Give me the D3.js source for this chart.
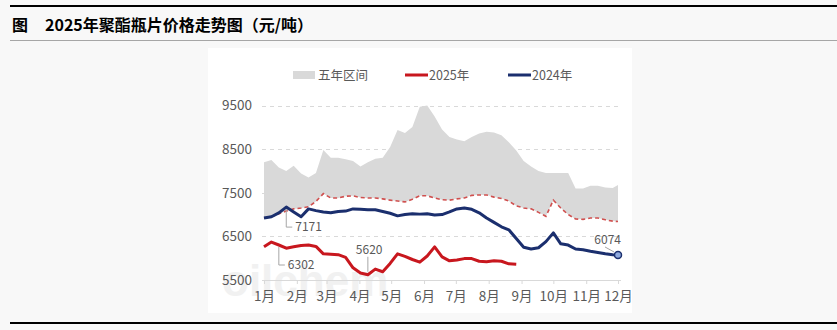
<!DOCTYPE html>
<html>
<head>
<meta charset="utf-8">
<script src="https://cdn.jsdelivr.net/npm/d3@7"></script>
<style>
  body { margin: 0; background: #f8f8f8; }
  svg { display: block; font-family: "Noto Sans CJK SC", "Noto Sans", sans-serif; }
</style>
</head>
<body>
<div id="graphicContainer"></div>
<script>
// weekly dates (month-day)
var dates = ["1-1","1-8","1-15","1-22","1-29","2-5","2-12","2-19","2-26","3-5","3-12","3-19","3-26",
  "4-2","4-9","4-16","4-23","4-30","5-7","5-14","5-21","5-28","6-4","6-11","6-18","6-25",
  "7-2","7-9","7-16","7-23","7-30","8-6","8-13","8-20","8-27","9-3","9-10","9-17","9-24",
  "10-1","10-8","10-15","10-22","10-29","11-5","11-12","11-19","11-26","12-1"];

// five-year range (max / min)
var rangeMax = [8200,8250,8080,8000,8120,7940,7850,7950,8480,8300,8300,8270,8230,8100,8200,8280,8300,8550,
  8940,8870,9010,9470,9500,9250,8950,8780,8720,8680,8780,8860,8900,8880,8820,8660,8470,8230,
  8100,8000,7950,7950,7950,7950,7600,7600,7660,7660,7620,7610,7680];
var rangeMin = [6920,6950,7020,7080,7130,7150,7180,7300,7480,7380,7380,7420,7430,7390,7380,7380,7360,7330,
  7310,7290,7350,7430,7430,7380,7340,7330,7360,7380,7440,7450,7450,7400,7370,7310,7200,7150,
  7130,7050,6960,7330,7150,7000,6900,6890,6920,6920,6880,6850,6840];

var y2024 = [6920,6950,7040,7171,7060,6950,7130,7090,7060,7040,7070,7080,7130,7120,7110,7110,7070,7030,
  6970,7000,7020,7010,7020,6990,7000,7060,7130,7150,7120,7040,6920,6820,6720,6650,6450,6250,
  6210,6240,6380,6580,6330,6300,6210,6195,6160,6130,6100,6080,6074];
var y2025 = [6260,6370,6302,6230,6260,6290,6300,6270,6100,6090,6080,6020,5780,5660,5620,5750,5690,5880,
  6100,6040,5970,5910,6050,6260,6030,5940,5960,5990,5990,5930,5920,5940,5930,5870,5860];

var yTicks = [5500, 6500, 7500, 8500, 9500];
var monthLabels = ["1月","2月","3月","4月","5月","6月","7月","8月","9月","10月","11月","12月"];

var labels = [
  {series: "2024", i: 3, text: "7171"},
  {series: "2025", i: 2, text: "6302"},
  {series: "2025", i: 14, text: "5620"},
  {series: "2024", i: 48, text: "6074"}
];

var W = 837, H = 330;
var toDate = function(s) { var p = s.split("-"); return new Date(2023, +p[0] - 1, +p[1]); };

var svg = d3.select("#graphicContainer").append("svg")
  .attr("width", W).attr("height", H);

svg.append("rect").attr("width", W).attr("height", H).attr("fill", "#f8f8f8");

// header lines + title
svg.append("line").attr("x1", 10).attr("x2", W).attr("y1", 6).attr("y2", 6)
  .attr("stroke", "#000").attr("stroke-width", 2);
svg.append("line").attr("x1", 10).attr("x2", W).attr("y1", 40.5).attr("y2", 40.5)
  .attr("stroke", "#a6a6a6").attr("stroke-width", 1);
svg.append("line").attr("x1", 10).attr("x2", W).attr("y1", 323).attr("y2", 323)
  .attr("stroke", "#000").attr("stroke-width", 2);
svg.append("text").attr("x", 12).attr("y", 31).attr("font-size", 16).attr("font-weight", "bold")
  .attr("fill", "#000").text("图");
svg.append("text").attr("x", 45).attr("y", 31).attr("font-size", 16).attr("font-weight", "bold")
  .attr("fill", "#000").text("2025年聚酯瓶片价格走势图（元/吨）");

// chart panel
svg.append("rect").attr("x", 208).attr("y", 48).attr("width", 424).attr("height", 265).attr("fill", "#fff");

// watermark
svg.append("text").attr("x", 222).attr("y", 296).attr("font-size", 44).attr("font-weight", "bold")
  .attr("fill", "#f1f1f1").attr("font-family", "Liberation Sans, sans-serif").text("oilchem");

var x = d3.scaleTime().domain([new Date(2023, 0, 1), new Date(2023, 11, 1)]).range([264, 618]);
var y = d3.scaleLinear().domain([5500, 9500]).range([280, 105.5]);

// gridlines
svg.append("g").selectAll("line").data(yTicks.slice(1)).join("line")
  .attr("x1", 262).attr("x2", 621)
  .attr("y1", function(d) { return Math.round(y(d)) + 0.5; })
  .attr("y2", function(d) { return Math.round(y(d)) + 0.5; })
  .attr("stroke", "#d9d9d9").attr("stroke-dasharray", "4,4");

// y axis labels
var yAxis = svg.append("g").attr("transform", "translate(264,0)")
  .call(d3.axisLeft(y).tickValues(yTicks).tickSize(0).tickPadding(12).tickFormat(d3.format("d")));
yAxis.select(".domain").remove();
yAxis.selectAll("text").attr("fill", "#595959").attr("font-size", 13.5)
  .attr("font-family", "Noto Sans CJK SC, sans-serif");

// x axis
var monthDates = monthLabels.map(function(m, i) { return new Date(2023, i, 1); });
var xAxis = svg.append("g").attr("transform", "translate(0," + Math.round(y(5500)) + ")")
  .call(d3.axisBottom(x).tickValues(monthDates).tickSize(4).tickPadding(7)
    .tickFormat(function(d, i) { return monthLabels[i]; }));
xAxis.select(".domain").attr("stroke", "#d9d9d9").attr("d", "M262,0.5H621");
xAxis.selectAll(".tick line").attr("stroke", "#d9d9d9");
xAxis.selectAll("text").attr("fill", "#595959").attr("font-size", 13.5)
  .attr("font-family", "Noto Sans CJK SC, sans-serif");

// five-year band
var band = dates.map(function(d, i) { return {date: toDate(d), hi: rangeMax[i], lo: rangeMin[i]}; });
svg.append("path").datum(band)
  .attr("fill", "#d9d9d9")
  .attr("d", d3.area().x(function(d) { return x(d.date); })
    .y0(function(d) { return y(d.lo); }).y1(function(d) { return y(d.hi); }));
svg.append("path").datum(band)
  .attr("fill", "none").attr("stroke", "#d0504f").attr("stroke-width", 1.6).attr("stroke-dasharray", "4,3")
  .attr("d", d3.line().x(function(d) { return x(d.date); }).y(function(d) { return y(d.lo); }));

var line = d3.line().x(function(d) { return x(d.date); }).y(function(d) { return y(d.v); });
var s2024 = y2024.map(function(v, i) { return {date: toDate(dates[i]), v: v}; });
var s2025 = y2025.map(function(v, i) { return {date: toDate(dates[i]), v: v}; });

svg.append("path").datum(s2024).attr("fill", "none").attr("stroke", "#1b2f6e")
  .attr("stroke-width", 3).attr("stroke-linejoin", "round").attr("d", line);
svg.append("path").datum(s2025).attr("fill", "none").attr("stroke", "#c8171e")
  .attr("stroke-width", 3).attr("stroke-linejoin", "round").attr("d", line);

// end marker
var last = s2024[s2024.length - 1];
svg.append("circle").attr("cx", x(last.date)).attr("cy", y(last.v)).attr("r", 3.5)
  .attr("fill", "#8fa9dc").attr("stroke", "#1b2f6e").attr("stroke-width", 1.5);

// data labels with leader lines
var lab = svg.append("g").attr("font-size", 12).attr("fill", "#595959")
  .attr("font-family", "Noto Sans CJK SC, sans-serif");
labels.forEach(function(l) {
  var s = l.series === "2024" ? s2024 : s2025;
  var px = x(s[l.i].date), py = y(s[l.i].v);
  var path, tx, ty, anchor = "start";
  if (l.text === "5620") {
    path = "M" + px + "," + (py - 3) + "V" + (py - 18);
    tx = px - 12; ty = py - 21;
  } else if (l.text === "6074") {
    path = "M" + (px - 4) + "," + (py - 3) + "L" + (px - 13) + "," + (py - 8);
    tx = px + 3; ty = py - 11; anchor = "end";
  } else {
    path = "M" + px + "," + (py + 2) + "V" + (py + 20) + "H" + (px + 6);
    tx = px + 9; ty = py + 24;
  }
  lab.append("path").attr("d", path).attr("fill", "none").attr("stroke", "#a6a6a6").attr("stroke-width", 1);
  lab.append("text").attr("x", tx).attr("y", ty).attr("text-anchor", anchor).text(l.text);
});

// legend
var legend = svg.append("g").attr("font-size", 12.5).attr("fill", "#595959")
  .attr("font-family", "Noto Sans CJK SC, sans-serif");
legend.append("rect").attr("x", 293).attr("y", 71).attr("width", 22).attr("height", 8).attr("fill", "#d9d9d9");
legend.append("text").attr("x", 318).attr("y", 80).text("五年区间");
legend.append("line").attr("x1", 405).attr("x2", 428).attr("y1", 75).attr("y2", 75)
  .attr("stroke", "#c8171e").attr("stroke-width", 3);
legend.append("text").attr("x", 429).attr("y", 80).text("2025年");
legend.append("line").attr("x1", 508).attr("x2", 531).attr("y1", 75).attr("y2", 75)
  .attr("stroke", "#1b2f6e").attr("stroke-width", 3);
legend.append("text").attr("x", 532).attr("y", 80).text("2024年");
</script>
</body>
</html>
